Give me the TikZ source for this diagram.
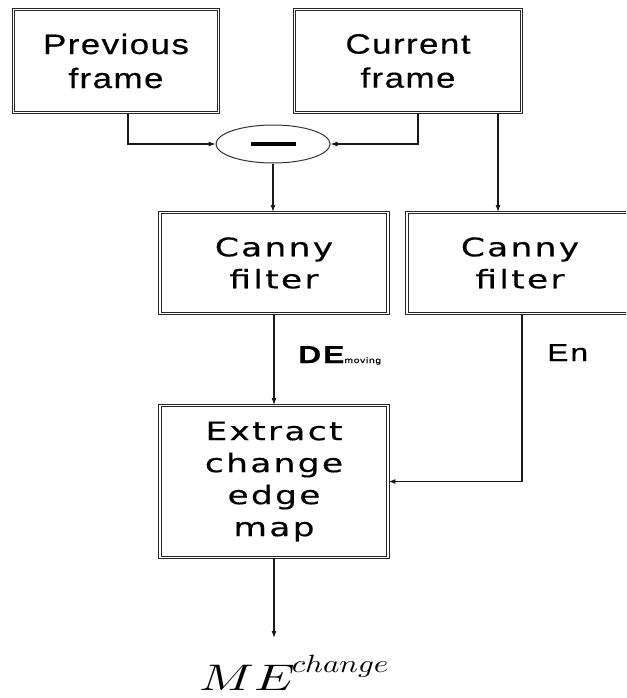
\documentclass[tikz,border=0pt]{standalone}
\usepackage{fontspec}
\usetikzlibrary{shapes.geometric,arrows.meta}
\newfontfamily\topfont[LetterSpace=5,FakeStretch=1.25,FakeBold=0.4]{Liberation Sans}
\newfontfamily\lowfont[LetterSpace=9,FakeStretch=1.35,FakeBold=0.4]{DejaVu Sans}
\newfontfamily\lblfont[LetterSpace=8,FakeStretch=1.3,FakeBold=0.4]{Liberation Sans}
\begin{document}
\begin{tikzpicture}[x=1pt,y=-1pt,
  dbox/.style={draw=black!85, double, double distance=1.6pt, line width=0.9pt,
    inner sep=0pt, align=center},
  topbox/.style={dbox, font=\topfont\fontsize{28}{34}\selectfont},
  lowbox/.style={dbox, font=\lowfont\fontsize{25.5}{32}\selectfont},
  arr/.style={draw=black!90, line width=1.1pt, -{Latex[length=7pt,width=5pt]}}]
\path[use as bounding box] (0,0) rectangle (626,698);
\clip (0,0) rectangle (626,698);
\fill[white] (0,0) rectangle (626,698);

\node[topbox, minimum width=205pt, minimum height=103pt] (prev) at (116,61) {Previous\\frame};
\node[topbox, minimum width=227pt, minimum height=103pt] (curr) at (408,61) {Current\\frame};
\node[draw=black!80, line width=1pt, ellipse, minimum width=114pt, minimum height=38pt, inner sep=0pt] (minus) at (273,144) {\rule[-2pt]{45pt}{4pt}};
\node[lowbox, minimum width=228pt, minimum height=101pt] (canny1) at (274,263) {Canny\\filter};
\node[lowbox, minimum width=226pt, minimum height=101pt] (canny2) at (520,263) {Canny\\filter};
\node[lowbox, minimum width=228pt, minimum height=152pt] (extract) at (274,481.5) {Extract\\change\\edge\\map};
\coordinate (out) at (274,638);

\node[anchor=base west, inner sep=0pt, font=\lblfont\bfseries\fontsize{24.5}{24}\selectfont] (de) at (298,363) {DE{\fontsize{8}{8}\selectfont\mdseries moving}};
\node[anchor=base west, inner sep=0pt, font=\lblfont\fontsize{24.5}{24}\selectfont] (en) at (547,361) {En};
\node[anchor=base west, inner sep=0pt] (me) at (199,690) {\scalebox{5.1}[3.7]{$ME$}\kern-3pt\raisebox{18pt}{\scalebox{3.1}[2.5]{$change$}}};

\draw[arr] ([xshift=12pt]prev.south) |- (minus.west);
\draw[arr] ([xshift=10pt]curr.south) |- (minus.east);
\draw[arr] ([xshift=90pt]curr.south) -- ([xshift=90pt]curr.south |- canny2.north);
\draw[arr] (minus.south) -- (minus.south |- canny1.north);
\draw[arr] (canny1.south) -- (extract.north);
\draw[arr] ([xshift=2pt]canny2.south) |- (extract.east);
\draw[arr] (extract.south) -- (out);
\end{tikzpicture}
\end{document}
